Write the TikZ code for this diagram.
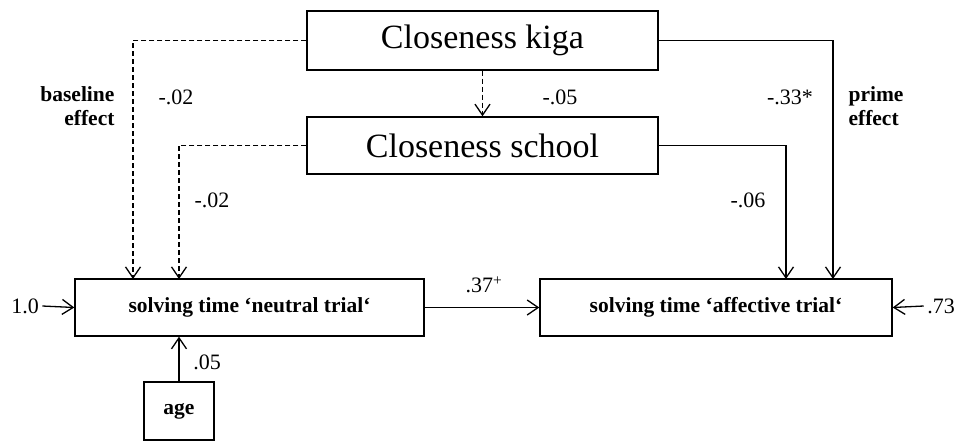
\documentclass[tikz,border=0pt]{standalone}
\usepackage{fontspec}
\setmainfont{Liberation Serif}
\usetikzlibrary{arrows.meta}

\begin{document}
\begin{tikzpicture}[x=1pt,y=-1pt,>={Straight Barb[length=11pt,width=15pt]},
  box/.style={draw,line width=1.4pt,inner sep=0pt},
  bigtxt/.style={font=\fontsize{34}{37}\selectfont},
  numtxt/.style={font=\fontsize{22}{25}\selectfont},
  boldtxt/.style={font=\fontsize{21.5}{24}\selectfont\bfseries},
  conn/.style={line width=1.3pt},
  dashconn/.style={conn,dash pattern=on 5pt off 3pt}]

\useasboundingbox (0,0) rectangle (957,442);

\node[box,bigtxt,minimum width=351pt,minimum height=59pt] (kiga) at (482.5,40.5) {Closeness kiga};
\node[box,bigtxt,minimum width=351pt,minimum height=57pt] (school) at (482.5,145.5) {Closeness school};
\node[box,boldtxt,minimum width=349pt,minimum height=57pt] (neutral) at (249.5,307.5) {solving time ‘neutral trial‘};
\node[box,boldtxt,minimum width=352pt,minimum height=57pt] (affective) at (716,307.5) {solving time ‘affective trial‘};
\node[box,boldtxt,minimum width=70pt,minimum height=58pt] (age) at (179,411) {age};

\node[numtxt] (resn) at (25,306) {1.0};
\node[numtxt] (resa) at (941,306) {.73};

\coordinate (nin1) at (133,279);
\coordinate (nin2) at (179,279);
\coordinate (ain1) at (786,279);
\coordinate (ain2) at (833,279);

\draw[dashconn,->] (kiga.west) -| (nin1);
\draw[dashconn,->] (school.west) -| (nin2);
\draw[dashconn,->] (kiga.south) -- (school.north);
\draw[conn,->] (kiga.east) -| (ain2);
\draw[conn,->] (school.east) -| (ain1);
\draw[conn,->] (neutral.east) -- (affective.west);
\draw[conn,->] (resn.east) -- (neutral.west);
\draw[conn,->] (resa.west) -- (affective.east);
\draw[conn,->] (age.north) -- (age.north |- neutral.south);

\node[boldtxt,align=right,anchor=east] (base) at (118,106) {baseline\\effect};
\node[boldtxt,align=left,anchor=west] (prime) at (845,106) {prime\\effect};

\node[numtxt] (l1) at (176,97) {-.02};
\node[numtxt] (l2) at (560,97) {-.05};
\node[numtxt] (l3) at (790,97) {-.33*};
\node[numtxt] (l4) at (212,200) {-.02};
\node[numtxt] (l5) at (748,200) {-.06};
\node[numtxt] (l6) at (484,285) {.37\textsuperscript{+}};
\node[numtxt] (l7) at (207,362) {.05};

\end{tikzpicture}
\end{document}
